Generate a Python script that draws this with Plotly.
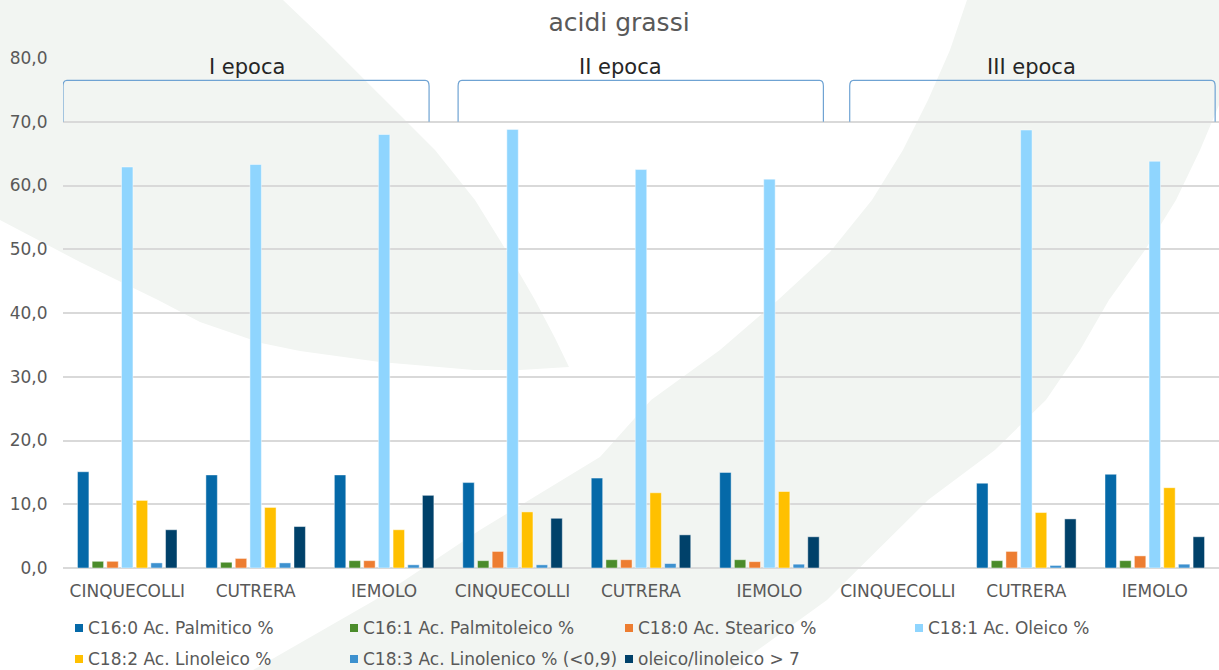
import plotly.graph_objects as go

# ---------------- data ----------------
categories = ["CINQUECOLLI", "CUTRERA", "IEMOLO",
              "CINQUECOLLI", "CUTRERA", "IEMOLO",
              "CINQUECOLLI", "CUTRERA", "IEMOLO"]
epoche = ["I epoca", "II epoca", "III epoca"]

series_names = ["C16:0 Ac. Palmitico %", "C16:1 Ac. Palmitoleico %", "C18:0 Ac. Stearico %",
                "C18:1 Ac. Oleico %", "C18:2 Ac. Linoleico %", "C18:3 Ac. Linolenico % (<0,9)",
                "oleico/linoleico > 7"]

palmitico = [15.1, 14.6, 14.6, 13.4, 14.1, 15.0, None, 13.3, 14.7]
palmitoleico = [1.05, 0.9, 1.15, 1.15, 1.3, 1.3, None, 1.15, 1.15]
stearico = [1.05, 1.5, 1.15, 2.6, 1.3, 1.0, None, 2.6, 1.9]
oleico = [62.9, 63.3, 68.0, 68.8, 62.5, 61.0, None, 68.7, 63.8]
linoleico = [10.6, 9.5, 6.0, 8.8, 11.8, 12.0, None, 8.7, 12.6]
linolenico = [0.8, 0.8, 0.5, 0.5, 0.7, 0.6, None, 0.4, 0.6]
oleico_linoleico = [6.0, 6.5, 11.4, 7.8, 5.2, 4.9, None, 7.7, 4.9]

values = [palmitico, palmitoleico, stearico, oleico, linoleico, linolenico, oleico_linoleico]
colors = ["#0569A8", "#4B8C2B", "#ED7D31", "#8FD5FE", "#FFC000", "#3D91CF", "#00416A"]

# ---------------- layout constants ----------------
W, H = 1219, 670
ML, MR, MT, MB = 63, 0, 58, 102
PW, PH = W - ML - MR, H - MT - MB
GRAY = "#595959"
FONT = "DejaVu Sans, Verdana, sans-serif"

xs = list(range(len(categories)))

fig = go.Figure()
for i, (name, vals, col) in enumerate(zip(series_names, values, colors)):
    fig.add_trace(go.Bar(
        x=xs, y=vals, name=name,
        marker=dict(color=col, line=dict(color="rgba(255,255,255,0.45)", width=1)),
        showlegend=False,
        hoverinfo="y+name",
    ))


def pxx(px):
    return (px - ML) / PW


def pxy(py):
    return 1 - (py - MT) / PH


def path_from(pts):
    s = "M {:.4f},{:.4f} ".format(pxx(pts[0][0]), pxy(pts[0][1]))
    for (a, b) in pts[1:]:
        s += "L {:.4f},{:.4f} ".format(pxx(a), pxy(b))
    return s + "Z"


BG = "#F2F5F2"
leaf = [(0, 0), (283, 0), (325, 40), (380, 95), (435, 150), (475, 200), (506, 250),
        (535, 300), (555, 338), (569, 367), (520, 370), (474, 370), (380, 362),
        (300, 351), (261, 343), (200, 322), (158, 300), (80, 262), (0, 220)]
band = [(967, 0), (950, 50), (928, 100), (903, 150), (872, 200), (830, 252), (778, 300),
        (720, 350), (651, 400), (600, 457), (480, 530), (375, 600), (253, 670),
        (730, 670), (827, 600), (928, 500), (995, 450), (1046, 400), (1080, 350),
        (1109, 300), (1145, 250), (1176, 200), (1200, 150), (1219, 105), (1219, 0)]

shapes = []
for pts in (leaf, band):
    shapes.append(dict(type="path", xref="paper", yref="paper", path=path_from(pts),
                       fillcolor=BG, line=dict(width=0), layer="below"))

# brackets over the epochs
bracket_x = [(-0.5, 2.35), (2.576, 5.42), (5.625, 8.47)]
label_x = [0.93, 3.84, 7.04]
y_bot, y_top = 70.0, 76.5
rx, ry = 0.03, 0.9
for (x0, x1) in bracket_x:
    path = (f"M {x0},{y_bot} L {x0},{y_top - ry} Q {x0},{y_top} {x0 + rx},{y_top} "
            f"L {x1 - rx},{y_top} Q {x1},{y_top} {x1},{y_top - ry} L {x1},{y_bot}")
    shapes.append(dict(type="path", xref="x", yref="y", path=path,
                       line=dict(color="#6FA3D3", width=1.2)))

annotations = []
for lab, lx in zip(epoche, label_x):
    annotations.append(dict(x=lx, y=78.6, xref="x", yref="y", text=lab, showarrow=False,
                            font=dict(family=FONT, size=21, color="#262626"),
                            xanchor="center", yanchor="middle"))

# custom legend (Excel-like layout): 4 entries on first row, 3 on second
leg_cols_px = [75, 350, 625, 915]
leg_rows_px = [628, 659]
SQ = 8
for i, (name, col) in enumerate(zip(series_names, colors)):
    r, c = divmod(i, 4)
    x0 = leg_cols_px[c]
    yc = leg_rows_px[r]
    shapes.append(dict(type="rect", xref="paper", yref="paper",
                       x0=pxx(x0), x1=pxx(x0 + SQ), y0=pxy(yc + SQ / 2), y1=pxy(yc - SQ / 2),
                       fillcolor=col, line=dict(width=0)))
    annotations.append(dict(x=pxx(x0 + SQ + 3), y=pxy(yc), xref="paper", yref="paper",
                            text=name, showarrow=False, xanchor="left", yanchor="middle",
                            font=dict(family=FONT, size=17, color=GRAY)))

fig.update_layout(
    width=W, height=H,
    margin=dict(l=ML, r=MR, t=MT, b=MB, autoexpand=False),
    paper_bgcolor="white", plot_bgcolor="rgba(0,0,0,0)",
    font=dict(family=FONT, size=17, color=GRAY),
    separators=",.",
    title=dict(text="acidi grassi", x=619 / W, xref="container", xanchor="center",
               y=1 - 22 / H, yref="container", yanchor="middle",
               font=dict(family=FONT, size=25, color=GRAY)),
    barmode="group", bargap=0.2, bargroupgap=0.22,
    shapes=shapes, annotations=annotations,
    showlegend=False,
    xaxis=dict(tickmode="array", tickvals=xs, ticktext=categories,
               range=[-0.5, len(categories) - 0.5], showgrid=False, zeroline=False,
               showline=False, ticks="outside", ticklen=8, tickcolor="rgba(0,0,0,0)",
               tickfont=dict(family=FONT, size=17, color=GRAY)),
    yaxis=dict(range=[0, 80], dtick=10, tickformat=".1f", showgrid=True,
               gridcolor="#D9D9D9", gridwidth=1.5, zeroline=True, zerolinecolor="#D9D9D9",
               zerolinewidth=1.5, showline=False, ticks="outside", ticklen=11,
               tickcolor="rgba(0,0,0,0)", tickfont=dict(family=FONT, size=17, color=GRAY)),
)

fig.write_html("out.html")
